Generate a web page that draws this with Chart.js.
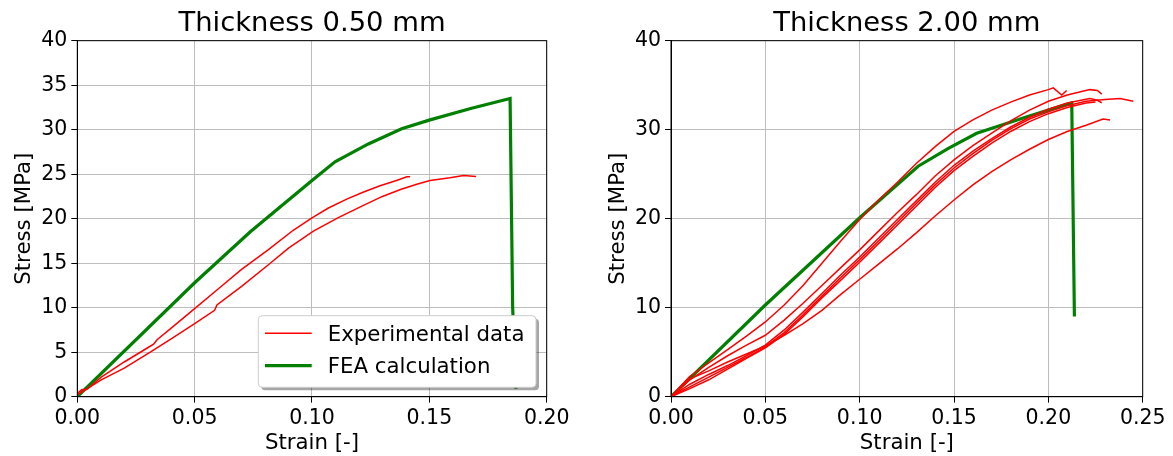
<!DOCTYPE html>
<html>
<head>
<meta charset="utf-8">
<script src="https://cdn.jsdelivr.net/npm/chart.js@4.4.1/dist/chart.umd.min.js"></script>
<style>
    html, body { margin: 0; padding: 0; background: #fff; }
    #wrap { position: relative; width: 1173px; height: 456px; }
    canvas { position: absolute; top: 0; }
    #thin  { left: 0; }
    #thick { left: 590px; }
</style>
</head>
<body>
<div id="wrap">
    <canvas id="thin" width="590" height="456"></canvas>
    <canvas id="thick" width="583" height="456"></canvas>
</div>
<script>
// ── Data: [strain, stress MPa] pairs ──────────────────────────────────────────
// Thickness 0.50 mm
const thinExp1 = [[0,0.4],[0.002,0.8],[0.004,0.8],[0.0102,2.2],[0.02,3.9],[0.03,5.5],[0.0325,5.9],[0.034,6.4],
    [0.04,7.7],[0.05,9.9],[0.06,12.1],[0.07,14.3],[0.0813,16.5],[0.092,18.7],[0.1,20.1],[0.107,21.2],
    [0.1148,22.2],[0.122,23.0],[0.129,23.7],[0.136,24.3],[0.1404,24.7],[0.1418,24.7]];
const thinExp2 = [[0,0.2],[0.0102,1.9],[0.02,3.2],[0.0316,5.1],[0.04,6.5],[0.05,8.2],[0.0585,9.7],[0.0595,10.3],
    [0.07,12.4],[0.0813,14.8],[0.09,16.7],[0.1006,18.6],[0.111,20.1],[0.1219,21.5],[0.13,22.5],[0.138,23.3],
    [0.145,23.9],[0.1503,24.3],[0.1588,24.6],[0.1645,24.85],[0.1699,24.75]];
const thinFea = [[0,0],[0.05,12.8],[0.0736,18.5],[0.1,24.3],[0.1098,26.4],[0.124,28.4],[0.1382,30.1],
    [0.1503,31.1],[0.168,32.4],[0.1844,33.5],[0.1855,10.0],[0.1869,0.9]];

// Thickness 2.00 mm
const thickExp1 = [[0,0],[0.01,2.3],[0.02,3.8],[0.03,5.3],[0.04,6.8],[0.05,8.4],[0.06,10.3],[0.07,12.5],[0.08,15.0],
    [0.09,17.5],[0.1,19.9],[0.11,22.1],[0.12,24.1],[0.13,26.2],[0.14,28.1],[0.15,29.8],[0.16,31.1],[0.17,32.2],
    [0.18,33.1],[0.19,33.9],[0.2,34.5],[0.2026,34.7],[0.2071,33.9],[0.2097,34.4]];
const thickExp2 = [[0,0],[0.01,1.9],[0.02,3.3],[0.03,4.6],[0.04,5.8],[0.05,6.9],[0.06,8.6],[0.07,10.5],[0.08,12.5],
    [0.09,14.5],[0.1,16.5],[0.11,18.6],[0.12,20.7],[0.13,22.7],[0.14,24.8],[0.15,26.6],[0.16,28.2],[0.17,29.6],
    [0.18,31.0],[0.19,32.2],[0.2,33.2],[0.21,33.9],[0.222,34.5],[0.226,34.4],[0.2283,34.0]];
const thickExp3 = [[0,0],[0.01,1.4],[0.02,2.5],[0.03,3.5],[0.04,4.6],[0.05,5.8],[0.06,7.5],[0.07,9.5],[0.08,11.6],
    [0.09,13.7],[0.1,15.7],[0.11,17.8],[0.12,19.9],[0.13,22.0],[0.14,24.1],[0.15,26.0],[0.16,27.6],[0.17,29.0],
    [0.18,30.3],[0.19,31.4],[0.2,32.3],[0.21,33.0],[0.222,33.5],[0.226,33.3],[0.2283,33.0]];
const thickExp4 = [[0,0],[0.01,1.1],[0.02,2.2],[0.03,3.3],[0.04,4.4],[0.05,5.6],[0.06,7.2],[0.07,9.2],[0.08,11.3],
    [0.09,13.4],[0.1,15.4],[0.11,17.5],[0.12,19.6],[0.13,21.7],[0.14,23.8],[0.15,25.7],[0.16,27.3],[0.17,28.8],
    [0.18,30.1],[0.19,31.2],[0.2,32.0],[0.21,32.7],[0.22,33.2],[0.23,33.4],[0.238,33.5],[0.245,33.2]];
const thickExp5 = [[0,0],[0.01,0.9],[0.02,1.9],[0.03,3.1],[0.04,4.3],[0.05,5.5],[0.06,7.0],[0.07,9.0],[0.08,11.1],
    [0.09,13.1],[0.1,15.1],[0.11,17.2],[0.12,19.3],[0.13,21.4],[0.14,23.5],[0.15,25.4],[0.16,27.0],[0.17,28.5],
    [0.18,29.8],[0.19,30.9],[0.2,31.8],[0.21,32.5],[0.22,33.0],[0.225,33.1]];
const thickExp6 = [[0,0],[0.01,2.0],[0.02,2.9],[0.03,3.9],[0.04,4.8],[0.05,5.7],[0.06,6.9],[0.07,8.2],[0.08,9.7],
    [0.09,11.5],[0.1,13.2],[0.11,14.9],[0.12,16.6],[0.13,18.4],[0.14,20.3],[0.15,22.1],[0.16,23.8],[0.17,25.3],
    [0.18,26.6],[0.19,27.8],[0.2,28.9],[0.21,29.8],[0.22,30.5],[0.229,31.2],[0.2327,31.1]];
const thickFea = [[0,0],[0.05,10.3],[0.1,20.1],[0.131,25.9],[0.147,27.9],[0.162,29.6],[0.175,30.5],[0.185,31.2],
    [0.2,32.2],[0.2124,33.0],[0.2138,9.0]];

const legendLabels = ['Experimental data', 'FEA calculation'];

// ── Helpers ───────────────────────────────────────────────────────────────────
const FONT = 'DejaVu Sans';
Chart.defaults.font.family = FONT;
Chart.defaults.color = '#000';

const pts = arr => arr.map(([x, y]) => ({ x, y }));

function expSet(arr, label) {
    return { label, data: pts(arr), borderColor: '#ff0000', borderWidth: 1.5,
             pointRadius: 0, showLine: true, fill: false, inLegend: !!label };
}
function feaSet(arr, label) {
    return { label, data: pts(arr), borderColor: '#008000', borderWidth: 3.2,
             pointRadius: 0, showLine: true, fill: false, inLegend: !!label };
}

// black box round the plot area (all four spines)
const frame = {
    id: 'frame',
    afterDatasetsDraw(chart) {
        const { ctx, chartArea: a } = chart;
        ctx.save();
        ctx.strokeStyle = '#000';
        ctx.lineWidth = 1;
        ctx.strokeRect(a.left, a.top, a.width, a.height);
        ctx.restore();
    }
};

// legend drawn inside the plot area, lower right, with a drop shadow
const insideLegend = {
    id: 'insideLegend',
    afterDraw(chart, args, opts) {
        if (!opts.show) return;
        const { ctx, chartArea } = chart;
        const w = 277.7, h = 71.6;
        const x = chartArea.right - 10.7 - w;
        const y = chartArea.bottom - 9.4 - h;
        ctx.save();
        ctx.fillStyle = 'rgba(0,0,0,0.35)';
        ctx.beginPath();
        ctx.roundRect(x + 3, y + 3, w, h, 4);
        ctx.fill();
        ctx.fillStyle = '#fff';
        ctx.strokeStyle = '#cccccc';
        ctx.lineWidth = 1;
        ctx.beginPath();
        ctx.roundRect(x, y, w, h, 4);
        ctx.fill();
        ctx.stroke();
        const entries = chart.data.datasets.filter(d => d.inLegend);
        entries.forEach((d, i) => {
            const ly = y + 17.6 + i * 32.4;
            ctx.strokeStyle = d.borderColor;
            ctx.lineWidth = d.borderWidth;
            ctx.beginPath();
            ctx.moveTo(x + 6.7, ly);
            ctx.lineTo(x + 53.4, ly);
            ctx.stroke();
            ctx.fillStyle = '#000';
            ctx.font = `21.3px "${FONT}"`;
            ctx.textBaseline = 'alphabetic';
            ctx.fillText(d.label, x + 69.4, ly + 7.4);
        });
        ctx.restore();
    }
};

function makeChart(id, cfg) {
    return new Chart(document.getElementById(id), {
        type: 'scatter',
        data: { datasets: cfg.datasets },
        plugins: [frame, insideLegend],
        options: {
            responsive: false,
            devicePixelRatio: 1,
            animation: false,
            layout: { padding: { left: 0, right: cfg.padRight, top: 7, bottom: 0 } },
            plugins: {
                legend: { display: false },
                tooltip: { enabled: false },
                title: {
                    display: true, text: cfg.title, fullSize: false,
                    font: { size: 27.4, weight: 'normal' },
                    padding: { top: 0, bottom: 0.8 }
                },
                insideLegend: { show: cfg.legend }
            },
            scales: {
                x: {
                    type: 'linear', min: 0, max: cfg.xMax,
                    afterFit: s => { s.height = 59.3; },
                    ticks: { stepSize: 0.05, padding: 4, maxRotation: 0, font: { size: 20.5 },
                             callback: v => v.toFixed(2) },
                    grid: { color: '#bdbdbd', lineWidth: 1, tickLength: 6, tickColor: '#000' },
                    border: { color: '#000', width: 1 },
                    title: { display: true, text: 'Strain [-]', font: { size: 21.3 },
                             padding: { top: 0, bottom: 0 } }
                },
                y: {
                    type: 'linear', min: 0, max: 40,
                    afterFit: s => { s.width = cfg.yWidth; },
                    ticks: { stepSize: cfg.yStep, padding: 4, font: { size: 20.5 } },
                    grid: { color: '#bdbdbd', lineWidth: 1, tickLength: 6, tickColor: '#000' },
                    border: { color: '#000', width: 1 },
                    title: { display: true, text: 'Stress [MPa]', font: { size: 21.3 },
                             padding: { top: cfg.yTitlePad, bottom: 0 } }
                }
            }
        }
    });
}

// ── Charts ────────────────────────────────────────────────────────────────────
makeChart('thin', {
    title: 'Thickness 0.50 mm',
    xMax: 0.20, yStep: 5, yWidth: 77.3, yTitlePad: 11.5, padRight: 43.3, legend: true,
    datasets: [
        expSet(thinExp1, legendLabels[0]),
        expSet(thinExp2),
        feaSet(thinFea, legendLabels[1])
    ]
});

makeChart('thick', {
    title: 'Thickness 2.00 mm',
    xMax: 0.25, yStep: 10, yWidth: 81, yTitlePad: 15.4, padRight: 30.3, legend: false,
    datasets: [
        expSet(thickExp1), expSet(thickExp2), expSet(thickExp3),
        expSet(thickExp4), expSet(thickExp5), expSet(thickExp6),
        feaSet(thickFea)
    ]
});
</script>
</body>
</html>
